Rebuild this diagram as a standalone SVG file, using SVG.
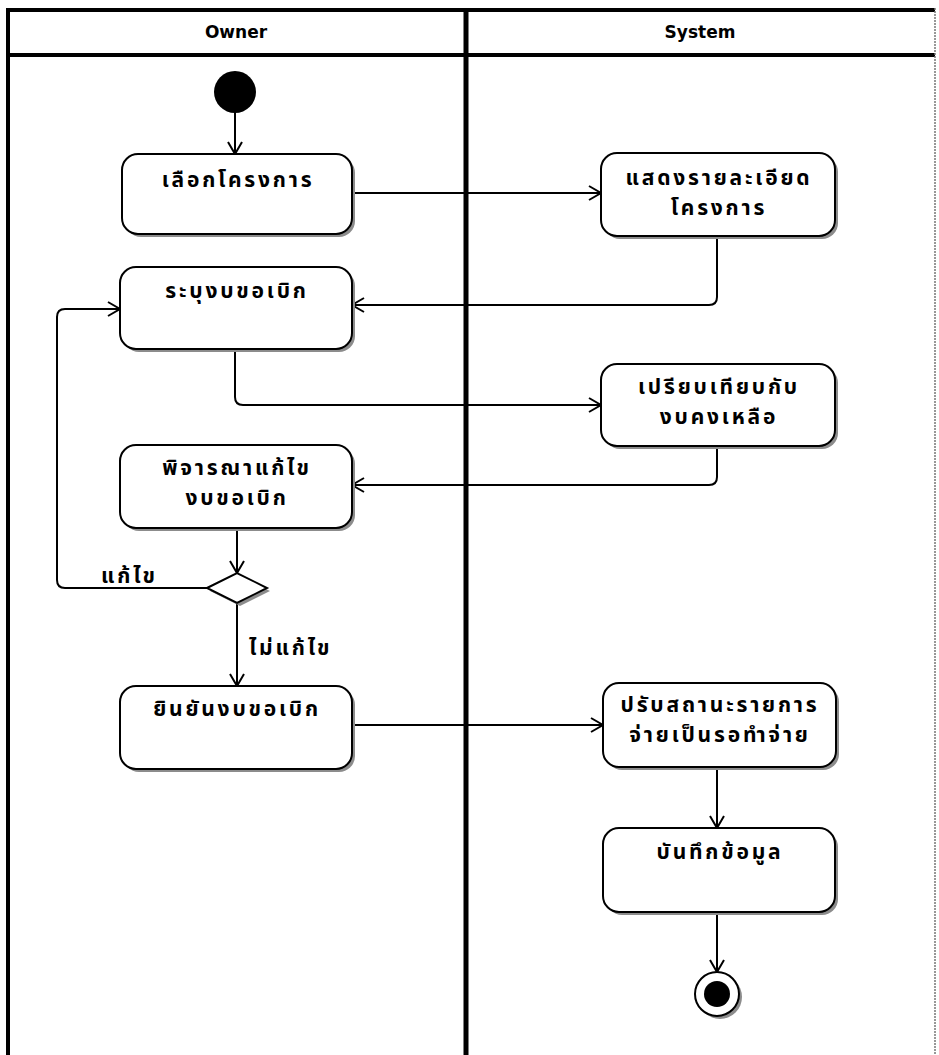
<svg xmlns="http://www.w3.org/2000/svg" width="939" height="1055" viewBox="0 0 939 1055">
  <style>
    .frame { stroke: #000; fill: none; }
    .act { fill: #fff; stroke: #000; stroke-width: 2; }
    .shadow { fill: #8c8c8c; stroke: none; }
    .lbl { font-family: "Noto Sans Thai", "Tahoma", "DejaVu Sans", "Noto Sans", sans-serif; font-size: 21px; font-weight: bold; letter-spacing: 2.8px; fill: #000; text-anchor: middle; }
    .guard { font-family: "Noto Sans Thai", "Tahoma", "DejaVu Sans", "Noto Sans", sans-serif; font-size: 21px; font-weight: bold; letter-spacing: 2.8px; fill: #000; }
    .head { font-family: "DejaVu Sans", "Liberation Sans", sans-serif; font-size: 17px; font-weight: bold; fill: #000; text-anchor: middle; }
    .flow { fill: none; stroke: #000; stroke-width: 2; marker-end: url(#open); }
  </style>
  <defs>
    <marker id="open" markerUnits="userSpaceOnUse" markerWidth="16" markerHeight="16" viewBox="0 0 16 16" refX="14" refY="8" orient="auto">
      <path d="M2,1 L14,8 L2,15" fill="none" stroke="#000" stroke-width="2"/>
    </marker>
  </defs>

  <!-- swimlane frame -->
  <g id="lanes">
    <line class="frame" x1="6" y1="10" x2="935" y2="10" stroke-width="4"/>
    <line class="frame" x1="6" y1="55" x2="935" y2="55" stroke-width="4"/>
    <line class="frame" x1="8" y1="8" x2="8" y2="1055" stroke-width="4"/>
    <line class="frame" x1="466" y1="8" x2="466" y2="1055" stroke-width="5"/>
    <line x1="935" y1="8" x2="935" y2="1055" stroke="#777" stroke-width="1.5" stroke-dasharray="2 1"/>
    <text class="head" x="236" y="38">Owner</text>
    <text class="head" x="700" y="38">System</text>
  </g>

  <!-- connectors -->
  <g id="connectors">
    <path class="flow" d="M235,113 V154"/>
    <path class="flow" d="M352,193 H601"/>
    <path class="flow" d="M717,236 V297 Q717,305 709,305 H352"/>
    <path class="flow" d="M235,349 V397 Q235,405 243,405 H601"/>
    <path class="flow" d="M717,446 V477 Q717,485 709,485 H352"/>
    <path class="flow" d="M237,528 V573"/>
    <path class="flow" d="M207,588 H65 Q57,588 57,580 V317 Q57,309 65,309 H120"/>
    <path class="flow" d="M237,603 V686"/>
    <path class="flow" d="M352,725 H603"/>
    <path class="flow" d="M717,767 V828"/>
    <path class="flow" d="M717,912 V972"/>
    <text class="guard" x="101" y="583">แก้ไข</text>
    <text class="guard" x="249" y="655">ไม่แก้ไข</text>
  </g>

  <!-- start -->
  <g id="start">
    <circle cx="235" cy="92" r="21" fill="#000"/>
  </g>

  <g id="n1">
    <rect class="shadow" x="125" y="157" width="230" height="80" rx="16"/>
    <rect class="act" x="122" y="154" width="230" height="80" rx="16"/>
    <text class="lbl" x="238" y="187">เลือกโครงการ</text>
  </g>

  <g id="n2">
    <rect class="shadow" x="604" y="156" width="234" height="83" rx="16"/>
    <rect class="act" x="601" y="153" width="234" height="83" rx="16"/>
    <text class="lbl" x="719" y="185">แสดงรายละเอียด</text>
    <text class="lbl" x="719" y="215">โครงการ</text>
  </g>

  <g id="n3">
    <rect class="shadow" x="123" y="270" width="232" height="82" rx="16"/>
    <rect class="act" x="120" y="267" width="232" height="82" rx="16"/>
    <text class="lbl" x="237" y="298">ระบุงบขอเบิก</text>
  </g>

  <g id="n4">
    <rect class="shadow" x="604" y="367" width="234" height="82" rx="16"/>
    <rect class="act" x="601" y="364" width="234" height="82" rx="16"/>
    <text class="lbl" x="719" y="394">เปรียบเทียบกับ</text>
    <text class="lbl" x="719" y="424">งบคงเหลือ</text>
  </g>

  <g id="n5">
    <rect class="shadow" x="123" y="448" width="232" height="83" rx="16"/>
    <rect class="act" x="120" y="445" width="232" height="83" rx="16"/>
    <text class="lbl" x="237" y="475">พิจารณาแก้ไข</text>
    <text class="lbl" x="237" y="505">งบขอเบิก</text>
  </g>

  <g id="decision">
    <polygon class="shadow" points="210,591 240,576 270,591 240,606"/>
    <polygon class="act" points="207,588 237,573 267,588 237,603"/>
  </g>

  <g id="n6">
    <rect class="shadow" x="123" y="689" width="232" height="83" rx="16"/>
    <rect class="act" x="120" y="686" width="232" height="83" rx="16"/>
    <text class="lbl" x="237" y="716">ยินยันงบขอเบิก</text>
  </g>

  <g id="n7">
    <rect class="shadow" x="606" y="686" width="233" height="84" rx="16"/>
    <rect class="act" x="603" y="683" width="233" height="84" rx="16"/>
    <text class="lbl" x="720" y="712">ปรับสถานะรายการ</text>
    <text class="lbl" x="720" y="742">จ่ายเป็นรอทำจ่าย</text>
  </g>

  <g id="n8">
    <rect class="shadow" x="606" y="831" width="232" height="84" rx="16"/>
    <rect class="act" x="603" y="828" width="232" height="84" rx="16"/>
    <text class="lbl" x="720" y="859">บันทึกข้อมูล</text>
  </g>

  <!-- end -->
  <g id="end">
    <circle class="shadow" cx="720" cy="997" r="22"/>
    <circle cx="717" cy="994" r="22" fill="#fff" stroke="#000" stroke-width="2"/>
    <circle cx="717" cy="994" r="13" fill="#000"/>
  </g>
</svg>
